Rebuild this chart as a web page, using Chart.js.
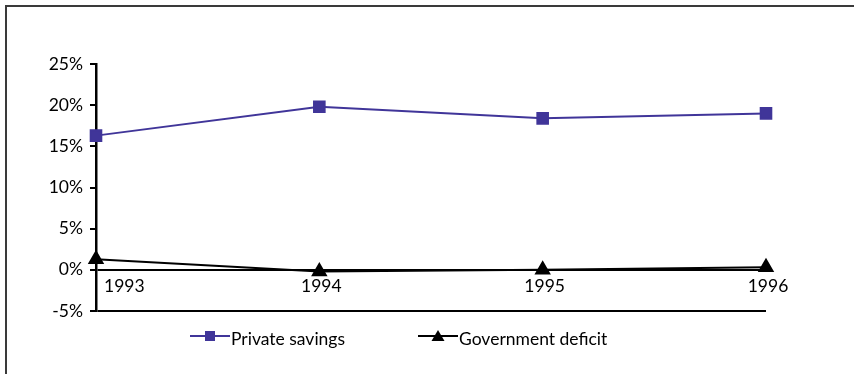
<!DOCTYPE html>
<html>
<head>
<meta charset="utf-8">
<script src="https://cdn.jsdelivr.net/npm/chart.js@4"></script>
<style>
  html, body { margin: 0; padding: 0; background: #fff; }
  .frame {
    position: relative;
    width: 854px;
    height: 374px;
    box-sizing: border-box;
  }
  .frame::before {
    content: "";
    position: absolute;
    left: 5px; top: 5px; right: 0; bottom: 0;
    border-left: 2px solid #3a3a3a;
    border-top: 2px solid #3a3a3a;
    pointer-events: none;
  }
  canvas { display: block; }
</style>
</head>
<body>
<div class="frame">
  <canvas id="savingsChart" width="854" height="374"></canvas>
</div>
<script>
const years = ["1993", "1994", "1995", "1996"];
const privateSavings = [16.3, 19.8, 18.4, 19.0];
const governmentDeficit = [1.3, -0.2, 0.0, 0.3];
const yTicks = [-5, 0, 5, 10, 15, 20, 25];

const FONT = "Lato, 'DejaVu Sans', sans-serif";
const FONT_SIZE = 17.5;
const PURPLE = "#403599";

// small line + marker sample used by the legend
function legendSample(color, style) {
  const c = document.createElement("canvas");
  c.width = 40; c.height = 14;
  const g = c.getContext("2d");
  g.strokeStyle = color;
  g.lineWidth = 2;
  g.beginPath(); g.moveTo(0, 7); g.lineTo(40, 7); g.stroke();
  g.fillStyle = color;
  if (style === "rect") {
    g.fillRect(15, 2, 10, 10);
  } else {
    g.beginPath(); g.moveTo(20, 1); g.lineTo(26.5, 12); g.lineTo(13.5, 12); g.closePath(); g.fill();
  }
  return c;
}

// year labels sit just under the zero line
const yearLabels = {
  id: "yearLabels",
  afterDraw(chart) {
    const ctx = chart.ctx;
    const x = chart.scales.x, y = chart.scales.y;
    const top = y.getPixelForValue(0) + 8;
    ctx.save();
    ctx.font = FONT_SIZE + "px " + FONT;
    ctx.fillStyle = "#000";
    ctx.textBaseline = "top";
    years.forEach((label, i) => {
      const px = x.getPixelForValue(i);
      if (i === 0) {
        ctx.textAlign = "left";
        ctx.fillText(label, px + 8, top);
      } else {
        ctx.textAlign = "center";
        ctx.fillText(label, px + 2, top);
      }
    });
    ctx.restore();
  }
};

// legend row under the plot
const bottomLegend = {
  id: "bottomLegend",
  afterDraw(chart) {
    const ctx = chart.ctx;
    const items = [
      { ds: chart.data.datasets[0], x: 190 },
      { ds: chart.data.datasets[1], x: 418 }
    ];
    ctx.save();
    ctx.font = FONT_SIZE + "px " + FONT;
    ctx.textBaseline = "middle";
    ctx.textAlign = "left";
    items.forEach(it => {
      const img = legendSample(it.ds.borderColor, it.ds.pointStyle);
      ctx.drawImage(img, it.x, 336 - 7);
      ctx.fillStyle = "#000";
      ctx.fillText(it.ds.label, it.x + 41, 339);
    });
    ctx.restore();
  }
};

new Chart(document.getElementById("savingsChart"), {
  type: "line",
  data: {
    labels: years,
    datasets: [
      {
        label: "Private savings",
        data: privateSavings,
        borderColor: PURPLE,
        backgroundColor: PURPLE,
        borderWidth: 2,
        pointStyle: "rect",
        pointRadius: 7.5,
        pointHoverRadius: 7.5,
        tension: 0,
        clip: false
      },
      {
        label: "Government deficit",
        data: governmentDeficit,
        borderColor: "#000",
        backgroundColor: "#000",
        borderWidth: 2,
        pointStyle: "triangle",
        pointRadius: 7.5,
        pointHoverRadius: 7.5,
        tension: 0,
        clip: false
      }
    ]
  },
  options: {
    responsive: false,
    animation: false,
    events: [],
    layout: { padding: { left: 0, top: 64, right: 88, bottom: 63 } },
    plugins: {
      legend: { display: false },
      tooltip: { enabled: false }
    },
    scales: {
      x: {
        display: false,
        offset: false
      },
      y: {
        min: -5,
        max: 25,
        afterFit(scale) { scale.width = 96; },
        afterBuildTicks(scale) { scale.ticks = yTicks.map(v => ({ value: v })); },
        ticks: {
          color: "#000",
          padding: 7,
          font: { family: FONT, size: FONT_SIZE },
          callback: v => v + "%"
        },
        grid: {
          drawOnChartArea: true,
          color: c => (c.tick && (c.tick.value === 0 || c.tick.value === -5)) ? "#000" : "rgba(0,0,0,0)",
          lineWidth: 2,
          tickColor: "#000",
          tickLength: 6,
          tickWidth: 2
        },
        border: { display: true, color: "#000", width: 2.5 }
      }
    }
  },
  plugins: [yearLabels, bottomLegend]
});
</script>
</body>
</html>
